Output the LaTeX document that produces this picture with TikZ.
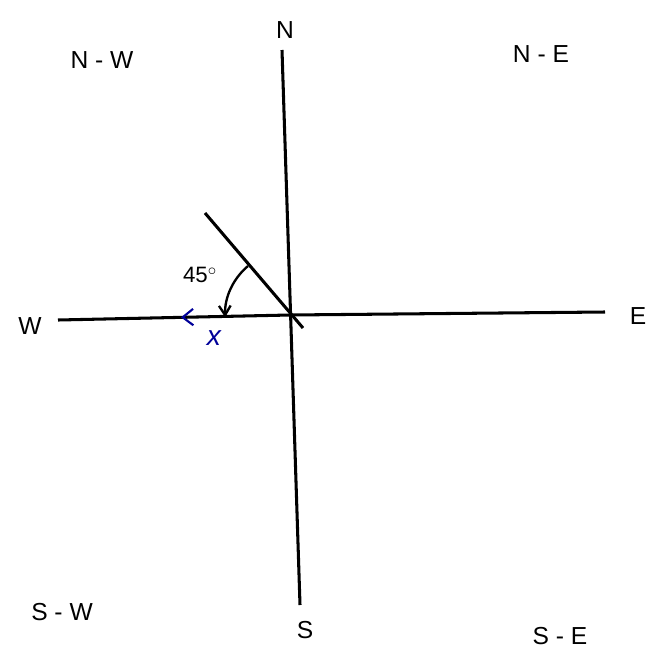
\documentclass[tikz,border=0pt]{standalone}
\usepackage{fontspec}
\setmainfont{Liberation Sans}
\usetikzlibrary{arrows.meta,decorations.markings}
\begin{document}
\begin{tikzpicture}[
    x=0.03cm, y=-0.03cm,
    axis/.style={draw, line width=2.6pt},
    dirlabel/.style={font=\fontsize{21}{23}\selectfont, inner sep=1pt},
    corner/.style={font=\fontsize{21}{23}\selectfont, inner sep=1pt},
    turn/.style={draw, line width=2pt, -{Straight Barb[length=8pt, width=10pt]}},
    penlabel/.style={text=blue!60!black, font=\fontsize{24}{26}\selectfont\itshape}
]
    \useasboundingbox (0,0) rectangle (668,664);

    % axis end points
    \coordinate (O) at (290,315);
    \coordinate (Ntop) at (282,50);
    \coordinate (Sbot) at (300,605);
    \coordinate (Wend) at (58,320);
    \coordinate (Eend) at (605,312);
    \coordinate (Dtop) at (205,213);
    \coordinate (Dbot) at (303,328);

    % direction labels
    \node [dirlabel] (n) at (285,30) {N};
    \node [dirlabel] (s) at (305,630) {S};
    \node [dirlabel] (w) at (30,326) {W};
    \node [dirlabel] (e) at (638,316) {E};
    \node [corner] (nw) at (102,60) {N - W};
    \node [corner] (ne) at (541,54) {N - E};
    \node [corner] (sw) at (62,612) {S - W};
    \node [corner] (se) at (560,636) {S - E};

    % axes
    \draw [axis] (Ntop) -- (Sbot);
    \draw [axis, postaction={decorate}, decoration={markings,
        mark=at position 0.47 with {\arrow[blue!60!black, line width=1.8pt]{Straight Barb[length=9pt, width=14pt]}}}]
        (O) -- (Wend);
    \draw [axis] (O) -- (Eend);
    \draw [axis] (Dtop) -- (Dbot);

    % angle
    \coordinate (A1) at (248,266);
    \draw [turn] (A1) arc[start angle=230, end angle=178, radius=64];
    \node [dirlabel, inner sep=0pt] (ang) at (200,275) {\fontsize{19}{21}\selectfont 45$^\circ$};
    \node [penlabel] (x) at (214,338) {x};
\end{tikzpicture}
\end{document}
